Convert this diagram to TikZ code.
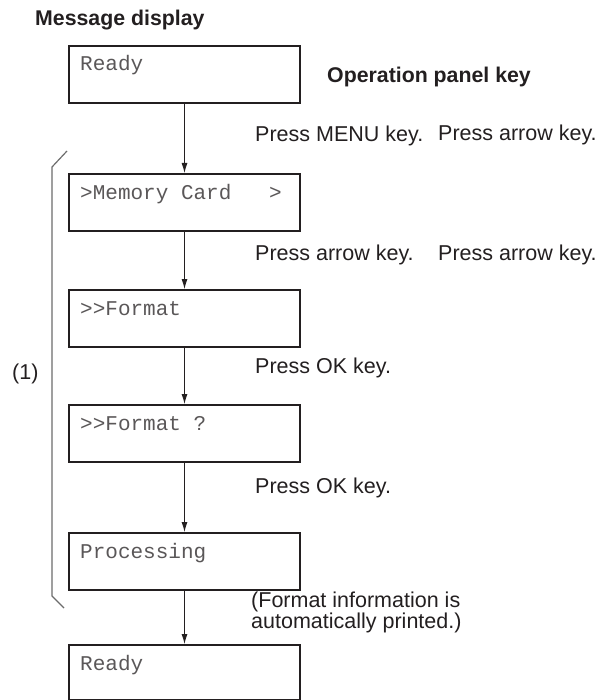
\documentclass[tikz,border=0pt]{standalone}
\usepackage{fontspec}
\setmainfont{Liberation Sans}
\setmonofont{Liberation Mono}
\usetikzlibrary{arrows.meta}
\definecolor{ink}{HTML}{231F20}
\tikzset{
  disp/.style={draw=ink, line width=2pt, minimum width=231pt, minimum height=57pt, anchor=north west, inner sep=0pt},
  msg/.style={anchor=base west, inner sep=0pt, font=\fontsize{21}{24}\selectfont\ttfamily, text=ink!75},
  lbl/.style={anchor=base west, inner sep=0pt, font=\fontsize{21.5}{22}\selectfont, text=ink},
  hdr/.style={anchor=base west, inner sep=0pt, font=\fontsize{21.3}{24}\selectfont\bfseries, text=ink},
  flow/.style={draw=ink, line width=0.9pt, -{Latex[length=10pt,width=6pt]}},
  brk/.style={draw=gray!85!black, line width=1.2pt}
}
\begin{document}
\begin{tikzpicture}[x=1pt,y=-1pt]
\useasboundingbox (0,0) rectangle (607,700);
\node[hdr] (h1) at (35,26) {Message display};
\node[hdr] (h2) at (327,83) {Operation panel key};

\node[disp] (b1) at (68,45) {};
\node[disp] (b2) at (68,173) {};
\node[disp] (b3) at (68,289) {};
\node[disp] (b4) at (68,404) {};
\node[disp] (b5) at (68,532) {};
\node[disp, minimum height=55pt] (b6) at (68,644) {};

\node[msg] (t1) at (80,71) {Ready};
\node[msg] (t2) at (80,199.5) {>Memory Card\ \ \ >};
\node[msg] (t3) at (80,315.5) {>>Format};
\node[msg] (t4) at (80,430.5) {>>Format ?};
\node[msg] (t5) at (80,558.5) {Processing};
\node[msg] (t6) at (80,670.5) {Ready};

\draw[flow] (b1.south) -- (b2.north);
\draw[flow] (b2.south) -- (b3.north);
\draw[flow] (b3.south) -- (b4.north);
\draw[flow] (b4.south) -- (b5.north);
\draw[flow] (b5.south) -- (b6.north);

\node[lbl] (l1) at (255,142) {Press MENU key.};
\node[lbl] (l2) at (438,141) {Press arrow key.};
\node[lbl] (l3) at (255,260) {Press arrow key.};
\node[lbl] (l4) at (438,260) {Press arrow key.};
\node[lbl] (l5) at (255,373) {Press OK key.};
\node[lbl] (l6) at (255,493) {Press OK key.};
\node[lbl] (l7) at (251,607) {(Format information is};
\node[lbl] (l8) at (251,628) {automatically printed.)};
\node[lbl] (n1) at (12,379) {(1)};

\coordinate (ka) at (67,151);
\coordinate (kb) at (52,167);
\coordinate (kc) at (52,596);
\coordinate (kd) at (64,608);
\draw[brk] (ka) -- (kb) -- (kc) -- (kd);
\end{tikzpicture}
\end{document}
